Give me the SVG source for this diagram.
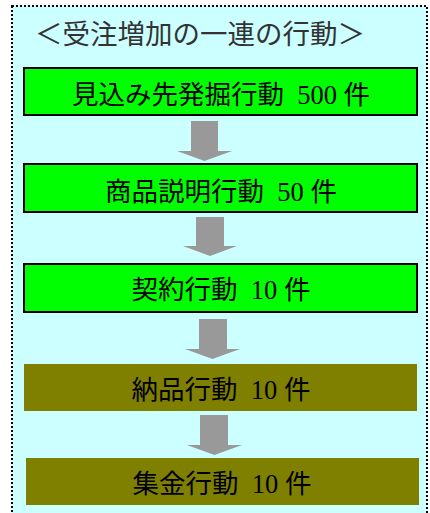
<svg xmlns="http://www.w3.org/2000/svg" width="430" height="513" viewBox="0 0 430 513">
<style>
  text { font-family: "Liberation Serif", "Noto Sans CJK JP", serif; font-size: 26.5px; text-anchor: middle; fill: #000; }
  .title { fill: #333; font-size: 27.5px; }
  .green { fill: #00FF00; stroke: #000; stroke-width: 2; }
  .olive { fill: #808000; }
  .arrow { fill: #999999; }
</style>
<rect width="430" height="513" fill="#fff"/>
<g id="frame">
  <rect x="12" y="6" width="415" height="520" fill="#CCFFFF" stroke="#000" stroke-width="2" stroke-dasharray="2 2"/>
  <text class="title" x="200" y="43.5" xml:space="preserve">＜受注増加の一連の行動＞</text>
</g>
<g id="connectors">
  <polygon class="arrow" points="191,121 218,121 218,151 232,151 204.5,161 177,151 191,151"/>
  <polygon class="arrow" points="196,217 224,217 224,246 237,246 210,256 183,246 196,246"/>
  <polygon class="arrow" points="199,319 227,319 227,349 240,349 212.5,359 185,349 199,349"/>
  <polygon class="arrow" points="200,415 228,415 228,445 242,445 214.5,455 187,445 200,445"/>
</g>
<g id="node1">
  <rect class="green" x="24" y="68" width="393" height="47"/>
  <text x="221" y="104" xml:space="preserve">見込み先発掘行動  500 件</text>
</g>
<g id="node2">
  <rect class="green" x="24" y="164" width="393" height="48"/>
  <text x="221" y="201" xml:space="preserve">商品説明行動  50 件</text>
</g>
<g id="node3">
  <rect class="green" x="24" y="264" width="393" height="48"/>
  <text x="221" y="299" xml:space="preserve">契約行動  10 件</text>
</g>
<g id="node4">
  <rect class="olive" x="24" y="364" width="393" height="47"/>
  <text x="221" y="399" xml:space="preserve">納品行動  10 件</text>
</g>
<g id="node5">
  <rect class="olive" x="26" y="458" width="393" height="47"/>
  <text x="222" y="492.5" xml:space="preserve">集金行動  10 件</text>
</g>
</svg>
